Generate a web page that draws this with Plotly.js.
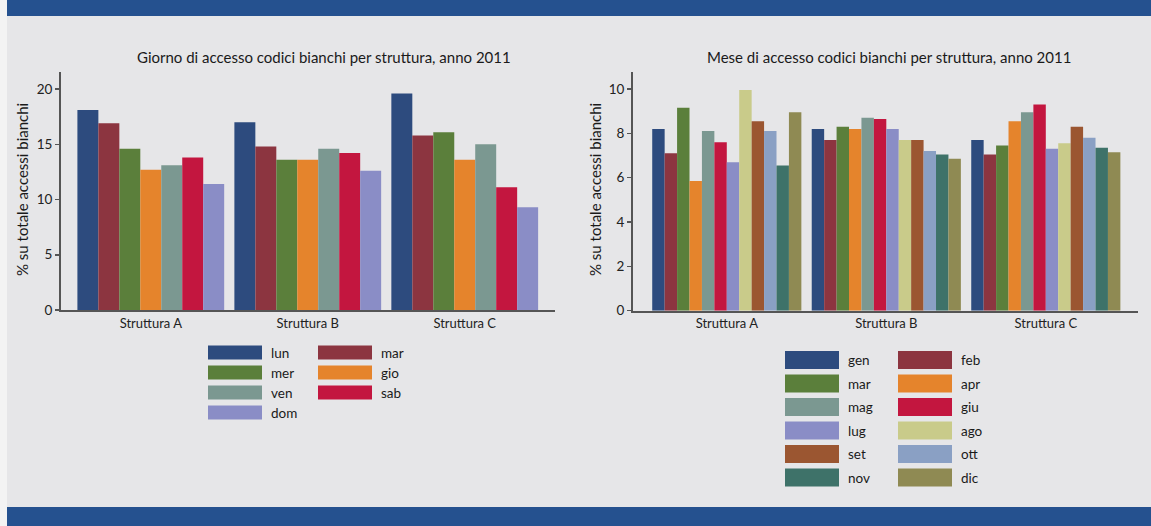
<!DOCTYPE html>
<html>
<head>
<meta charset="utf-8">
<script src="https://cdn.plot.ly/plotly-3.0.1.min.js"></script>
<style>
html,body{margin:0;padding:0;background:#e6e6e8;}
#chart{width:1151px;height:526px;}
</style>
</head>
<body>
<div id="chart"></div>
<script>
// ---- data ----
var strutture = ['Struttura A', 'Struttura B', 'Struttura C'];

var giorni = ['lun', 'mar', 'mer', 'gio', 'ven', 'sab', 'dom'];
var lun = [18.1, 17.0, 19.6];
var marG = [16.9, 14.8, 15.8];
var mer = [14.6, 13.6, 16.1];
var gio = [12.7, 13.6, 13.6];
var ven = [13.1, 14.6, 15.0];
var sab = [13.8, 14.2, 11.1];
var dom = [11.4, 12.6, 9.3];
var valoriGiorni = [lun, marG, mer, gio, ven, sab, dom];
var coloriGiorni = ['#2d4b7e', '#8c3540', '#5b7f3b', '#e5842c', '#7b9891', '#c3163f', '#8a8dc6'];

var mesi = ['gen', 'feb', 'mar', 'apr', 'mag', 'giu', 'lug', 'ago', 'set', 'ott', 'nov', 'dic'];
var gen = [8.2, 8.2, 7.7];
var feb = [7.1, 7.7, 7.05];
var marM = [9.15, 8.3, 7.45];
var apr = [5.85, 8.2, 8.55];
var mag = [8.1, 8.7, 8.95];
var giu = [7.6, 8.65, 9.3];
var lug = [6.7, 8.2, 7.3];
var ago = [9.95, 7.7, 7.55];
var set = [8.55, 7.7, 8.3];
var ott = [8.1, 7.2, 7.8];
var nov = [6.55, 7.05, 7.35];
var dic = [8.95, 6.85, 7.15];
var valoriMesi = [gen, feb, marM, apr, mag, giu, lug, ago, set, ott, nov, dic];
var coloriMesi = ['#2d4b7e', '#8c3540', '#5b7f3b', '#e5842c', '#7b9891', '#c3163f', '#8a8dc6', '#c9cb8a', '#9b5631', '#8aa0c4', '#3e7269', '#8f8a53'];

var titoloSx = 'Giorno di accesso codici bianchi per struttura, anno 2011';
var titoloDx = 'Mese di accesso codici bianchi per struttura, anno 2011';
var titoloY = '% su totale accessi bianchi';

// ---- helpers ----
var W = 1151, H = 526;
function px(x) { return x / W; }
function py(y) { return 1 - y / H; }
var FONT = 'Lato, "Open Sans", sans-serif';

var traces = [];
giorni.forEach(function (g, i) {
  traces.push({type: 'bar', name: g, x: strutture, y: valoriGiorni[i], xaxis: 'x', yaxis: 'y',
    marker: {color: coloriGiorni[i], line: {width: 0}}, showlegend: false, hoverinfo: 'name+y'});
});
mesi.forEach(function (m, i) {
  traces.push({type: 'bar', name: m, x: strutture, y: valoriMesi[i], xaxis: 'x2', yaxis: 'y2',
    marker: {color: coloriMesi[i], line: {width: 0}}, showlegend: false, hoverinfo: 'name+y'});
});

var shapes = [
  {type: 'rect', xref: 'paper', yref: 'paper', x0: 0, x1: px(7), y0: 0, y1: 1, fillcolor: '#f3f3f3', line: {width: 0}, layer: 'below'},
  {type: 'rect', xref: 'paper', yref: 'paper', x0: px(7), x1: 1, y0: py(16), y1: 1, fillcolor: '#25518f', line: {width: 0}},
  {type: 'rect', xref: 'paper', yref: 'paper', x0: px(7), x1: 1, y0: 0, y1: py(507), fillcolor: '#25518f', line: {width: 0}}
];
var annotations = [
  {text: titoloSx, xref: 'paper', yref: 'paper', x: px(324), y: py(57), xanchor: 'center', yanchor: 'middle', showarrow: false, font: {family: FONT, size: 15, color: '#1a1a1a'}},
  {text: titoloDx, xref: 'paper', yref: 'paper', x: px(889), y: py(57), xanchor: 'center', yanchor: 'middle', showarrow: false, font: {family: FONT, size: 15, color: '#1a1a1a'}},
  {text: titoloY, xref: 'paper', yref: 'paper', x: px(22), y: py(190), xanchor: 'center', yanchor: 'middle', textangle: -90, showarrow: false, font: {family: FONT, size: 15, color: '#1a1a1a'}},
  {text: titoloY, xref: 'paper', yref: 'paper', x: px(595), y: py(190), xanchor: 'center', yanchor: 'middle', textangle: -90, showarrow: false, font: {family: FONT, size: 15, color: '#1a1a1a'}}
];

// manual legends (two columns, row-major)
function legenda(nomi, colori, x0, colStep, y0, rowStep, sw, sh) {
  nomi.forEach(function (n, i) {
    var c = i % 2, r = Math.floor(i / 2);
    var xs = x0 + c * colStep, yc = y0 + r * rowStep;
    shapes.push({type: 'rect', xref: 'paper', yref: 'paper', x0: px(xs), x1: px(xs + sw), y0: py(yc + sh / 2), y1: py(yc - sh / 2),
      fillcolor: colori[i], line: {width: 0}});
    annotations.push({text: n, xref: 'paper', yref: 'paper', x: px(xs + sw + 7), y: py(yc), xanchor: 'left', yanchor: 'middle',
      showarrow: false, font: {family: FONT, size: 13.5, color: '#1a1a1a'}});
  });
}
legenda(giorni, coloriGiorni, 208, 110, 352.5, 20, 54, 14);
legenda(mesi, coloriMesi, 785, 113, 360, 23.5, 54, 18);

var axBase = {showline: true, linecolor: '#555', linewidth: 2, showgrid: false, zeroline: false, fixedrange: true,
  tickfont: {family: FONT, size: 13.5, color: '#222'}};

var layout = {
  width: W, height: H,
  margin: {l: 0, r: 0, t: 0, b: 0},
  paper_bgcolor: '#e6e6e8', plot_bgcolor: 'rgba(0,0,0,0)',
  barmode: 'group', bargap: 0.065, bargroupgap: 0,
  showlegend: false,
  xaxis: Object.assign({}, axBase, {domain: [px(61), px(555)], range: [-0.572, 2.575], anchor: 'y', ticks: '', tickfont: {family: FONT, size: 13, color: '#222'}}),
  yaxis: Object.assign({}, axBase, {domain: [py(310), py(71.7)], range: [0, 21.57], anchor: 'x', dtick: 5, ticks: 'outside', ticklen: 4, tickwidth: 1.5, tickcolor: '#555'}),
  xaxis2: Object.assign({}, axBase, {domain: [px(633), px(1138)], range: [-0.588, 2.578], anchor: 'y2', ticks: '', tickfont: {family: FONT, size: 13, color: '#222'}}),
  yaxis2: Object.assign({}, axBase, {domain: [py(310.7), py(71.7)], range: [0, 10.78], anchor: 'x2', dtick: 2, ticks: 'outside', ticklen: 4, tickwidth: 1.5, tickcolor: '#555'}),
  shapes: shapes,
  annotations: annotations
};

Plotly.newPlot('chart', traces, layout, {displayModeBar: false, staticPlot: true});
</script>
</body>
</html>
